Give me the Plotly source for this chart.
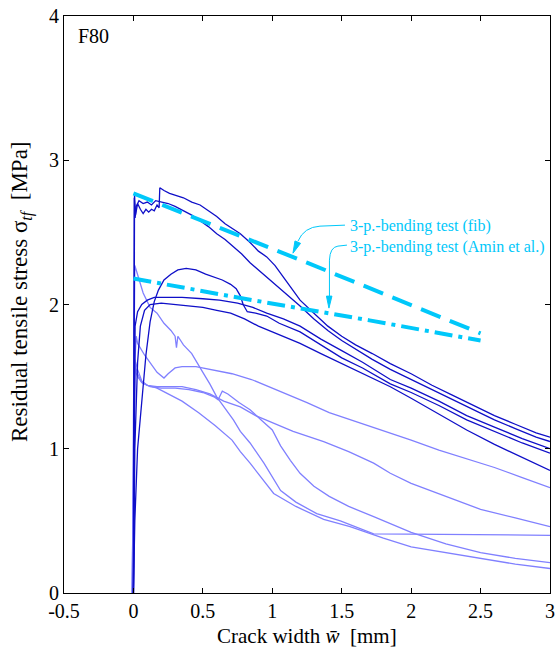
import plotly.graph_objects as go

# ---- axis ticks ----
x_tick_vals = [-0.5, 0, 0.5, 1, 1.5, 2, 2.5, 3]
x_tick_text = ["-0.5", "0", "0.5", "1", "1.5", "2", "2.5", "3"]
y_tick_vals = [0, 1, 2, 3, 4]
y_tick_text = ["0", "1", "2", "3", "4"]

# ---- uniaxial tension tests, group 1 (dark) : crack width [mm], stress [MPa] ----
d1_w = [0.0, 0.004, 0.008, 0.015, 0.03, 0.05, 0.07, 0.09, 0.11, 0.13, 0.15, 0.17, 0.185, 0.19,
        0.22, 0.26, 0.30, 0.36, 0.42, 0.48, 0.54, 0.60, 0.66, 0.72, 0.77, 0.84, 0.90, 0.96,
        1.02, 1.08, 1.14, 1.20, 1.30, 1.40, 1.50, 1.60, 1.72, 1.85, 2.00, 2.15, 2.30, 2.45,
        2.60, 2.75, 2.90, 3.00]
d1_s = [0.0, 1.40, 2.76, 2.62, 2.70, 2.66, 2.63, 2.66, 2.64, 2.66, 2.65, 2.69, 2.67, 2.81,
        2.79, 2.77, 2.76, 2.74, 2.71, 2.69, 2.65, 2.61, 2.56, 2.52, 2.49, 2.43, 2.37, 2.33,
        2.27, 2.19, 2.11, 2.03, 1.94, 1.85, 1.78, 1.72, 1.66, 1.59, 1.52, 1.44, 1.37, 1.30,
        1.23, 1.17, 1.11, 1.08]

d2_w = [0.0, 0.003, 0.006, 0.012, 0.02, 0.04, 0.07, 0.10, 0.13, 0.16, 0.20, 0.25, 0.30, 0.36,
        0.42, 0.48, 0.54, 0.60, 0.66, 0.72, 0.78, 0.84, 0.90, 0.96, 1.04, 1.13, 1.20, 1.30,
        1.40, 1.50, 1.60, 1.72, 1.85, 2.00, 2.15, 2.30, 2.45, 2.60, 2.75, 2.90, 3.00]
d2_s = [0.0, 1.50, 2.74, 2.60, 2.68, 2.72, 2.70, 2.71, 2.69, 2.72, 2.71, 2.70, 2.68, 2.65,
        2.62, 2.58, 2.54, 2.49, 2.45, 2.40, 2.35, 2.29, 2.24, 2.19, 2.12, 2.05, 1.99, 1.90,
        1.82, 1.75, 1.69, 1.62, 1.55, 1.48, 1.41, 1.34, 1.27, 1.20, 1.14, 1.08, 1.05]

d3_w = [0.0, 0.01, 0.03, 0.06, 0.09, 0.12, 0.15, 0.18, 0.22, 0.27, 0.32, 0.38, 0.45, 0.52,
        0.58, 0.64, 0.70, 0.74, 0.77, 0.79, 0.82, 0.88, 0.96, 1.05, 1.20, 1.35, 1.50, 1.65,
        1.85, 2.00, 2.20, 2.40, 2.60, 2.80, 3.00]
d3_s = [0.0, 0.50, 1.00, 1.35, 1.65, 1.88, 2.02, 2.10, 2.17, 2.21, 2.24, 2.25, 2.24, 2.21,
        2.19, 2.17, 2.14, 2.11, 2.06, 2.00, 1.95, 1.94, 1.92, 1.87, 1.81, 1.72, 1.63, 1.56,
        1.45, 1.39, 1.30, 1.20, 1.12, 1.04, 0.97]

d4_w = [0.0, 0.006, 0.012, 0.03, 0.06, 0.10, 0.15, 0.25, 0.35, 0.50, 0.62, 0.75, 0.86, 0.96,
        1.08, 1.20, 1.35, 1.50, 1.65, 1.85, 2.00, 2.20, 2.40, 2.60, 2.80, 3.00]
d4_s = [0.0, 1.20, 1.85, 1.95, 2.00, 2.03, 2.05, 2.05, 2.05, 2.04, 2.03, 2.01, 1.98, 1.94,
        1.90, 1.85, 1.76, 1.68, 1.60, 1.48, 1.42, 1.33, 1.23, 1.15, 1.07, 1.00]

d5_w = [0.0, 0.01, 0.03, 0.05, 0.08, 0.12, 0.20, 0.30, 0.40, 0.50, 0.60, 0.70, 0.80, 0.90,
        1.00, 1.10, 1.20, 1.35, 1.50, 1.65, 1.85, 2.00, 2.20, 2.40, 2.60, 2.80, 3.00]
d5_s = [0.0, 1.00, 1.60, 1.85, 1.96, 2.00, 2.01, 2.00, 1.99, 1.98, 1.96, 1.94, 1.90, 1.85,
        1.81, 1.77, 1.73, 1.66, 1.59, 1.52, 1.43, 1.35, 1.24, 1.13, 1.03, 0.94, 0.85]

# ---- uniaxial tension tests, group 2 (light) ----
la_w = [-0.005, 0.0, 0.01, 0.02, 0.03, 0.08, 0.12, 0.17, 0.22, 0.25, 0.30, 0.35, 0.45, 0.55,
        0.71, 0.85, 0.95, 1.10, 1.25, 1.41, 1.60, 1.85, 2.00, 2.20, 2.40, 2.60, 2.80, 3.00]
la_s = [0.0, 0.80, 1.60, 1.78, 1.73, 1.65, 1.60, 1.53, 1.49, 1.52, 1.56, 1.57, 1.57, 1.55,
        1.52, 1.48, 1.44, 1.38, 1.32, 1.25, 1.19, 1.11, 1.06, 0.99, 0.93, 0.87, 0.80, 0.73]

lb_w = [-0.01, 0.0, 0.01, 0.03, 0.06, 0.10, 0.17, 0.25, 0.35, 0.45, 0.55, 0.65, 0.77, 0.88,
        1.00, 1.15, 1.37, 1.55, 1.73, 1.85, 2.00, 2.25, 2.50, 2.75, 3.00]
lb_s = [0.0, 0.90, 1.55, 1.50, 1.46, 1.44, 1.43, 1.43, 1.43, 1.41, 1.38, 1.33, 1.29, 1.23,
        1.18, 1.12, 1.05, 0.98, 0.90, 0.83, 0.76, 0.67, 0.58, 0.52, 0.46]

lc_w = [-0.005, 0.0, 0.01, 0.03, 0.06, 0.12, 0.20, 0.30, 0.40, 0.50, 0.58, 0.61, 0.64, 0.68,
        0.76, 0.84, 0.92, 1.00, 1.06, 1.13, 1.20, 1.30, 1.41, 1.55, 1.73, 2.00, 2.25, 2.50,
        2.75, 3.00]
lc_s = [0.0, 1.00, 1.58, 1.52, 1.46, 1.43, 1.42, 1.42, 1.41, 1.39, 1.36, 1.34, 1.40, 1.38,
        1.32, 1.27, 1.20, 1.13, 1.02, 0.92, 0.83, 0.74, 0.67, 0.60, 0.53, 0.42, 0.34, 0.28,
        0.24, 0.21]

le_w = [-0.01, 0.0, 0.01, 0.03, 0.06, 0.10, 0.17, 0.25, 0.35, 0.47, 0.59, 0.71, 0.77, 0.84,
        0.94, 1.01, 1.17, 1.37, 1.56, 1.80, 2.00, 2.25, 2.50, 2.75, 3.00]
le_s = [0.0, 1.00, 1.62, 1.55, 1.47, 1.44, 1.42, 1.38, 1.33, 1.25, 1.16, 1.06, 0.98, 0.90,
        0.78, 0.69, 0.60, 0.51, 0.46, 0.38, 0.32, 0.28, 0.24, 0.20, 0.17]

lf_w = [-0.005, 0.0, 0.01, 0.05, 0.07, 0.12, 0.17, 0.22, 0.27, 0.30, 0.31, 0.32, 0.36, 0.42,
        0.46, 0.50, 0.55, 0.60, 0.66, 0.72, 0.77, 0.84, 0.94, 1.06, 1.17, 1.32, 1.49, 1.60,
        1.73, 3.00]
lf_s = [0.0, 1.20, 2.27, 2.15, 2.08, 1.98, 1.94, 1.87, 1.82, 1.78, 1.70, 1.78, 1.72, 1.66,
        1.59, 1.53, 1.45, 1.36, 1.28, 1.20, 1.12, 1.04, 0.90, 0.71, 0.63, 0.55, 0.50, 0.46,
        0.41, 0.40]

# ---- 3-point bending test derived laws ----
fib_w = [0.0, 1.25, 2.5]
fib_s = [2.77, 2.29, 1.80]
amin_w = [0.0, 0.8, 1.7, 2.5]
amin_s = [2.18, 2.04, 1.89, 1.75]

DARK = "#0F0FC8"
LIGHT = "#8080FF"
CYAN = "#00C8FA"
FONT = "Times New Roman, Liberation Serif, DejaVu Serif, serif"

fig = go.Figure()

for w, s in [(la_w, la_s), (lb_w, lb_s), (lc_w, lc_s), (le_w, le_s), (lf_w, lf_s)]:
    fig.add_trace(go.Scatter(x=w, y=s, mode="lines",
                             line=dict(color=LIGHT, width=1.3), showlegend=False))

for w, s in [(d1_w, d1_s), (d2_w, d2_s), (d3_w, d3_s), (d4_w, d4_s), (d5_w, d5_s)]:
    fig.add_trace(go.Scatter(x=w, y=s, mode="lines",
                             line=dict(color=DARK, width=1.3), showlegend=False))

fig.add_trace(go.Scatter(x=fib_w, y=fib_s, mode="lines",
                         line=dict(color=CYAN, width=4, dash="21px,10px"),
                         showlegend=False))
fig.add_trace(go.Scatter(x=amin_w, y=amin_s, mode="lines",
                         line=dict(color=CYAN, width=4, dash="18px,6px,4px,6px"),
                         showlegend=False))

# curved leader arrows (pixel offsets from the arrow tip, y pointing up)
fib_tip = (1.149, 2.356)
amin_tip = (1.408, 1.975)
shapes = [
    dict(type="path", xref="x", yref="y", xsizemode="pixel", ysizemode="pixel",
         xanchor=fib_tip[0], yanchor=fib_tip[1],
         path="M 52,28 L 27,27 Q 11,26 5,12", line=dict(color=CYAN, width=1)),
    dict(type="path", xref="x", yref="y", xsizemode="pixel", ysizemode="pixel",
         xanchor=fib_tip[0], yanchor=fib_tip[1],
         path="M 0,0 L 7.6,9.8 L 2.0,12.2 Z", fillcolor=CYAN, line=dict(color=CYAN, width=1)),
    dict(type="path", xref="x", yref="y", xsizemode="pixel", ysizemode="pixel",
         xanchor=amin_tip[0], yanchor=amin_tip[1],
         path="M 18,63 L 9,62 Q 1,61 0.5,48 L 0.5,12", line=dict(color=CYAN, width=1)),
    dict(type="path", xref="x", yref="y", xsizemode="pixel", ysizemode="pixel",
         xanchor=amin_tip[0], yanchor=amin_tip[1],
         path="M 0,0 L 3,12 L -2.5,12 Z", fillcolor=CYAN, line=dict(color=CYAN, width=1)),
]

annotations = [
    dict(text="3-p.-bending test (fib)", x=1.545, y=2.543, xref="x", yref="y",
         xanchor="left", yanchor="middle", showarrow=False,
         font=dict(family=FONT, size=16, color=CYAN)),
    dict(text="3-p.-bending test (Amin et al.)", x=1.545, y=2.398, xref="x", yref="y",
         xanchor="left", yanchor="middle", showarrow=False,
         font=dict(family=FONT, size=16, color=CYAN)),
    dict(text="F80", x=0.024, y=0.965, xref="paper", yref="paper",
         xanchor="left", yanchor="middle", showarrow=False,
         font=dict(family=FONT, size=20, color="black")),
    dict(text="Crack width <i>w\u0304</i>  [mm]", x=0.5, y=-0.074, xref="paper", yref="paper",
         xanchor="center", yanchor="middle", showarrow=False,
         font=dict(family=FONT, size=21, color="black")),
    dict(text="Residual tensile stress \u03c3<sub><i>tf</i></sub>  [MPa]", x=-0.086, y=0.522,
         xref="paper", yref="paper", xanchor="center", yanchor="middle", showarrow=False,
         textangle=-90, font=dict(family=FONT, size=23, color="black")),
]

axis_common = dict(showline=True, linecolor="black", linewidth=1, mirror="ticks",
                   ticks="inside", ticklen=5, tickwidth=1, tickcolor="black",
                   showgrid=False, zeroline=False, automargin=False,
                   tickfont=dict(family=FONT, size=20, color="black"))

fig.update_layout(
    width=558, height=648,
    margin=dict(l=64, r=8, t=16, b=55),
    paper_bgcolor="white", plot_bgcolor="white",
    font=dict(family=FONT),
    xaxis=dict(range=[-0.5, 3], tickvals=x_tick_vals, ticktext=x_tick_text, **axis_common),
    yaxis=dict(range=[0, 4], tickvals=y_tick_vals, ticktext=y_tick_text, **axis_common),
    shapes=shapes,
    annotations=annotations,
    showlegend=False,
)

fig.write_html("out.html")
